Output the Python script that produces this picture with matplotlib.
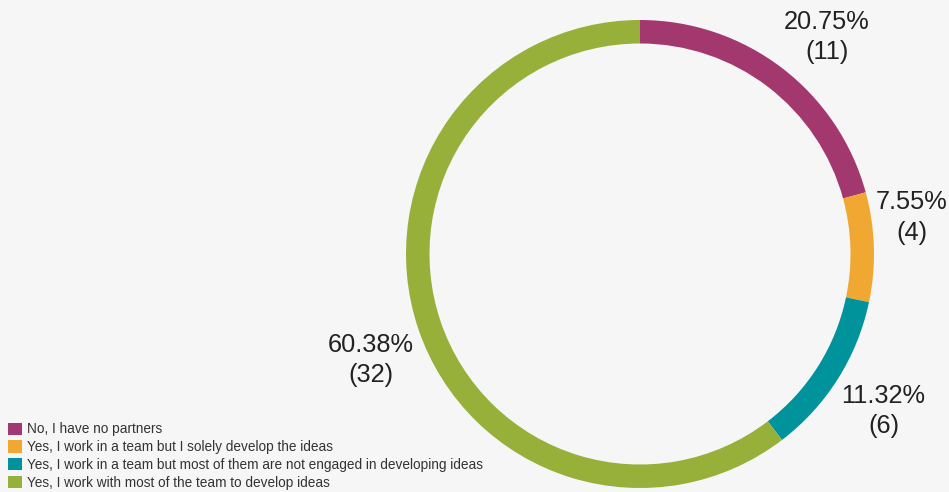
import numpy as np
import matplotlib
matplotlib.use("Agg")
import matplotlib.pyplot as plt
from matplotlib.patches import Patch

categories = [
    "No, I have no partners",
    "Yes, I work in a team but I solely develop the ideas",
    "Yes, I work in a team but most of them are not engaged in developing ideas",
    "Yes, I work with most of the team to develop ideas",
]
counts = [11, 4, 6, 32]
percents = [20.75, 7.55, 11.32, 60.38]
colors = ["#a3386f", "#f0a833", "#00939b", "#97b03a"]

# label nudges in pixels (dx right, dy down) from the radial anchor
nudges = [(12, 12), (-16, -28), (0, 3), (4, 14)]

W, H, DPI = 949, 492, 100
bg = "#f6f6f6"
plt.rcParams["font.family"] = ["Liberation Sans", "DejaVu Sans"]

fig = plt.figure(figsize=(W / DPI, H / DPI), dpi=DPI, facecolor=bg)

cx, cy, R = 640, 254, 234  # pixel centre (from top) and outer radius
ax = fig.add_axes([(cx - R) / W, (H - cy - R) / H, 2 * R / W, 2 * R / H])
ax.set_facecolor(bg)
ax.axis("off")

ring = 23.5 / R
ax.pie(counts, colors=colors, startangle=90, counterclock=False, radius=1.0,
       wedgeprops=dict(width=ring, edgecolor="none", linewidth=0))
ax.set_xlim(-1, 1)
ax.set_ylim(-1, 1)
ax.set_aspect("equal")

# labels placed radially at each slice's mid angle
total = sum(counts)
start = 90.0
lab_r = 288 / R
for c, p, (ndx, ndy) in zip(counts, percents, nudges):
    sweep = 360.0 * c / total
    mid = np.deg2rad(start - sweep / 2)
    start -= sweep
    x = lab_r * np.cos(mid) + ndx / R
    y = lab_r * np.sin(mid) - ndy / R
    ax.text(x, y, f"{p:.2f}%\n({c})", ha="center", va="center",
            fontsize=18.3, color="#222222", linespacing=1.32, clip_on=False)

handles = [Patch(facecolor=col, edgecolor="none") for col in colors]
fig.legend(handles, categories, loc="lower left", bbox_to_anchor=(0.0, -0.012),
           frameon=False, fontsize=9.8, handlelength=1.0, handleheight=1.0,
           handletextpad=0.35, labelspacing=0.28, borderaxespad=0.3,
           borderpad=0.3, labelcolor="#333333")

fig.savefig("out.png", dpi=DPI, facecolor=bg)
